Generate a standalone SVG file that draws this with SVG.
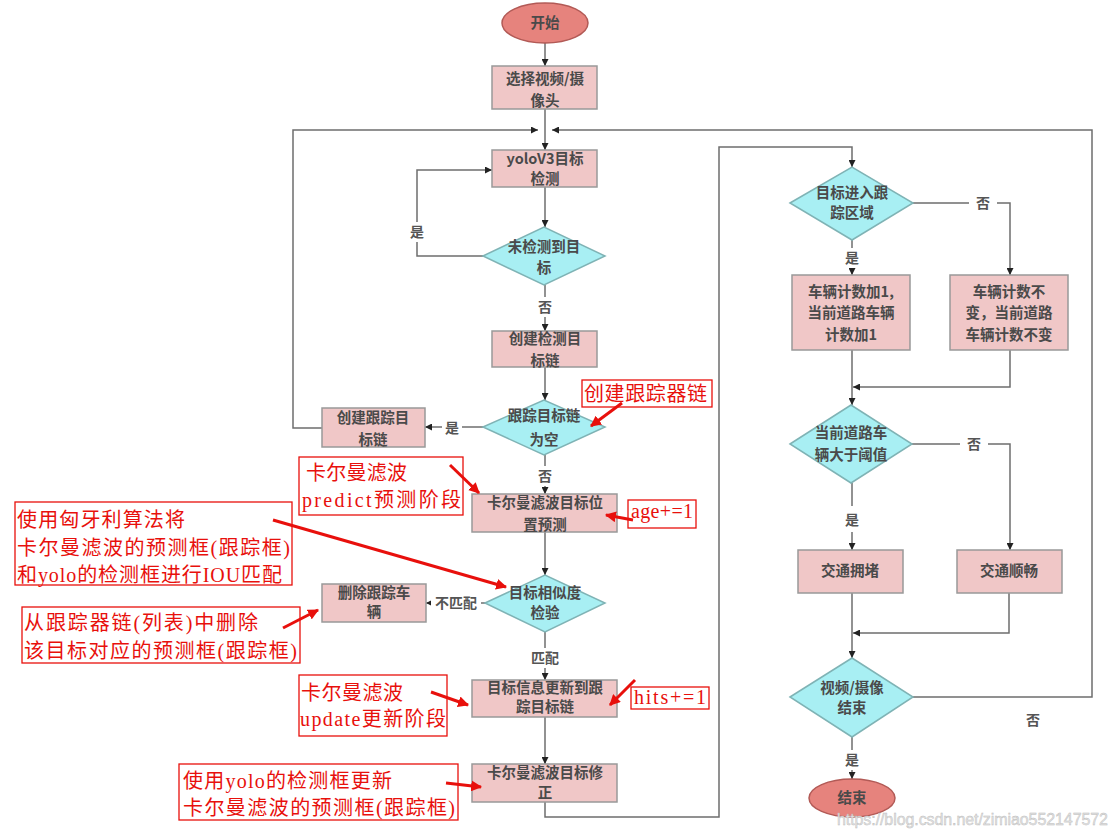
<svg xmlns="http://www.w3.org/2000/svg" width="1118" height="830" viewBox="0 0 1118 830">
<defs>
<marker id="ah" viewBox="0 0 10 10" refX="10" refY="5" markerWidth="7" markerHeight="7" markerUnits="userSpaceOnUse" orient="auto"><path d="M0,0 L10,5 L0,10 z" fill="#222"/></marker>
<marker id="rh" viewBox="0 0 10 10" refX="9" refY="5" markerWidth="11" markerHeight="11" markerUnits="userSpaceOnUse" orient="auto"><path d="M0,0 L10,5 L0,10 z" fill="#e8100c"/></marker>
<style>
.box{fill:#f0c7c7;stroke:#999;stroke-width:1.5}
.dia{fill:#a8eff3;stroke:#7fb3b5;stroke-width:1.5}
.ell{fill:#e6837d;stroke:#b25a56;stroke-width:1.5}
.t{font-family:"Noto Sans CJK SC",sans-serif;font-size:14.5px;font-weight:700;fill:#4a4a4a;text-anchor:middle}
.lb{font-family:"Noto Sans CJK SC",sans-serif;font-size:14px;font-weight:700;fill:#555;text-anchor:middle}
.c{fill:none;stroke:#6e6e6e;stroke-width:1.5}
.ca{fill:none;stroke:#6e6e6e;stroke-width:1.5;marker-end:url(#ah)}
.rbox{fill:#fff;stroke:#e8100c;stroke-width:1.3}
.rt{font-family:"Liberation Serif","Noto Sans CJK SC",serif;font-size:20px;fill:#e8100c}
.ra{fill:none;stroke:#e8100c;stroke-width:3;marker-end:url(#rh)}
.bg{fill:#fff}
</style>
</defs>
<rect width="1118" height="830" fill="#fff"/>

<g id="connectors">
<path class="ca" d="M545,43 V66"/>
<path class="ca" d="M545,109 V150"/>
<path class="ca" d="M322,428 H293 V130 H538"/>
<path class="ca" d="M913,697 H1092 V130 H552"/>
<path class="ca" d="M545,187 V227"/>
<path class="ca" d="M483,256 H417 V170 H492"/>
<path class="ca" d="M545,285 V331"/>
<path class="ca" d="M545,367 V400"/>
<path class="ca" d="M483,427 H425"/>
<path class="ca" d="M545,455 V494"/>
<path class="ca" d="M545,532 V575"/>
<path class="ca" d="M485,603 H426"/>
<path class="ca" d="M545,632 V680"/>
<path class="ca" d="M545,717 V764"/>
<path class="ca" d="M545,802 V817 H719 V147 H852 V167"/>
<path class="ca" d="M913,203 H1010 V275"/>
<path class="ca" d="M852,240 V275"/>
<path class="ca" d="M852,350 V405"/>
<path class="ca" d="M1010,350 V387 H853"/>
<path class="ca" d="M912,444 H1010 V550"/>
<path class="ca" d="M852,483 V550"/>
<path class="ca" d="M852,593 V658"/>
<path class="ca" d="M1009,593 V633 H853"/>
<path class="ca" d="M852,737 V779"/>
</g>

<g id="labels">
<rect class="bg" x="408" y="222" width="18" height="20"/><text class="lb" x="417" y="237">是</text>
<rect class="bg" x="536" y="297" width="18" height="20"/><text class="lb" x="545" y="312">否</text>
<rect class="bg" x="442" y="418" width="20" height="20"/><text class="lb" x="452" y="433">是</text>
<rect class="bg" x="536" y="466" width="18" height="20"/><text class="lb" x="545" y="481">否</text>
<rect class="bg" x="431" y="593" width="50" height="20"/><text class="lb" x="456" y="608">不匹配</text>
<rect class="bg" x="528" y="648" width="34" height="20"/><text class="lb" x="545" y="663">匹配</text>
<rect class="bg" x="969" y="193" width="28" height="20"/><text class="lb" x="983" y="208">否</text>
<rect class="bg" x="843" y="248" width="18" height="20"/><text class="lb" x="852" y="263">是</text>
<rect class="bg" x="960" y="434" width="28" height="20"/><text class="lb" x="974" y="449">否</text>
<rect class="bg" x="843" y="506" width="18" height="26"/><text class="lb" x="852" y="525">是</text>
<text class="lb" x="1033" y="725">否</text>
<rect class="bg" x="843" y="750" width="18" height="20"/><text class="lb" x="852" y="765">是</text>
</g>

<g id="n-start"><ellipse class="ell" cx="545" cy="23" rx="43" ry="20"/><text class="t" x="545" y="28">开始</text></g>
<g id="n-select"><rect class="box" x="492" y="66" width="105" height="43"/><text class="t" x="545" y="84">选择视频/摄</text><text class="t" x="545" y="106">像头</text></g>
<g id="n-yolo"><rect class="box" x="492" y="150" width="105" height="37"/><text class="t" x="545" y="164">yoloV3目标</text><text class="t" x="545" y="184">检测</text></g>
<g id="n-nodet"><polygon class="dia" points="483,256 544,227 605,256 544,285"/><text class="t" x="544" y="252">未检测到目</text><text class="t" x="544" y="273">标</text></g>
<g id="n-detchain"><rect class="box" x="492" y="331" width="105" height="36"/><text class="t" x="545" y="344">创建检测目</text><text class="t" x="545" y="366">标链</text></g>
<g id="n-trkempty"><polygon class="dia" points="483,427 544,400 605,427 544,455"/><text class="t" x="544" y="421">跟踪目标链</text><text class="t" x="544" y="445">为空</text></g>
<g id="n-trkchain"><rect class="box" x="322" y="408" width="103" height="39"/><text class="t" x="373" y="423">创建跟踪目</text><text class="t" x="373" y="445">标链</text></g>
<g id="n-predict"><rect class="box" x="472" y="494" width="145" height="38"/><text class="t" x="545" y="508">卡尔曼滤波目标位</text><text class="t" x="545" y="530">置预测</text></g>
<g id="n-sim"><polygon class="dia" points="485,603 545,575 605,603 545,632"/><text class="t" x="545" y="598">目标相似度</text><text class="t" x="545" y="618">检验</text></g>
<g id="n-delete"><rect class="box" x="322" y="584" width="104" height="38"/><text class="t" x="374" y="598">删除跟踪车</text><text class="t" x="374" y="617">辆</text></g>
<g id="n-update"><rect class="box" x="472" y="680" width="145" height="37"/><text class="t" x="545" y="693">目标信息更新到跟</text><text class="t" x="545" y="712">踪目标链</text></g>
<g id="n-correct"><rect class="box" x="472" y="764" width="145" height="38"/><text class="t" x="545" y="778">卡尔曼滤波目标修</text><text class="t" x="545" y="798">正</text></g>
<g id="n-enter"><polygon class="dia" points="790,203 852,167 913,203 852,240"/><text class="t" x="852" y="198">目标进入跟</text><text class="t" x="852" y="218">踪区域</text></g>
<g id="n-count1"><rect class="box" x="792" y="275" width="118" height="75"/><text class="t" x="851" y="297">车辆计数加1,</text><text class="t" x="851" y="318">当前道路车辆</text><text class="t" x="851" y="340">计数加1</text></g>
<g id="n-count0"><rect class="box" x="950" y="275" width="118" height="75"/><text class="t" x="1009" y="297">车辆计数不</text><text class="t" x="1009" y="318">变，当前道路</text><text class="t" x="1009" y="340">车辆计数不变</text></g>
<g id="n-thresh"><polygon class="dia" points="790,444 851,405 912,444 851,483"/><text class="t" x="851" y="438">当前道路车</text><text class="t" x="851" y="460">辆大于阈值</text></g>
<g id="n-jam"><rect class="box" x="798" y="550" width="105" height="43"/><text class="t" x="850" y="576">交通拥堵</text></g>
<g id="n-smooth"><rect class="box" x="957" y="550" width="105" height="43"/><text class="t" x="1009" y="576">交通顺畅</text></g>
<g id="n-endq"><polygon class="dia" points="790,697 852,658 913,697 852,737"/><text class="t" x="852" y="693">视频/摄像</text><text class="t" x="852" y="713">结束</text></g>
<g id="n-end"><ellipse class="ell" cx="852" cy="798" rx="43" ry="19"/><text class="t" x="852" y="803">结束</text></g>

<g id="annotations">
<rect class="rbox" x="582" y="380" width="130" height="27"/>
<text class="rt" x="584" y="401" textLength="123">创建跟踪器链</text>
<path class="ra" d="M622,403 L591,426"/>

<rect class="rbox" x="299" y="457" width="164" height="58"/>
<text class="rt" x="306" y="480" textLength="101">卡尔曼滤波</text>
<text class="rt" x="302" y="507" textLength="159">predict预测阶段</text>
<path class="ra" d="M450,465 L479,493"/>

<rect class="rbox" x="628" y="500" width="68" height="28"/>
<text class="rt" x="631" y="518" textLength="62">age+=1</text>
<path class="ra" d="M633,520 L606,515"/>

<rect class="rbox" x="15" y="502" width="277" height="83"/>
<text class="rt" x="17" y="527" textLength="168">使用匈牙利算法将</text>
<text class="rt" x="17" y="555" textLength="273">卡尔曼滤波的预测框(跟踪框)</text>
<text class="rt" x="17" y="582" textLength="265">和yolo的检测框进行IOU匹配</text>
<path class="ra" d="M273,520 L506,587"/>

<rect class="rbox" x="22" y="607" width="278" height="56"/>
<text class="rt" x="24" y="630" textLength="234">从跟踪器链(列表)中删除</text>
<text class="rt" x="24" y="658" textLength="273">该目标对应的预测框(跟踪框)</text>
<path class="ra" d="M283,628 L318,610"/>

<rect class="rbox" x="299" y="675" width="148" height="61"/>
<text class="rt" x="301" y="700" textLength="102">卡尔曼滤波</text>
<text class="rt" x="300" y="726" textLength="146">update更新阶段</text>
<path class="ra" d="M431,692 L468,705"/>

<rect class="rbox" x="631" y="687" width="78" height="22"/>
<text class="rt" x="634" y="704" textLength="72">hits+=1</text>
<path class="ra" d="M635,680 L610,705"/>

<rect class="rbox" x="179" y="764" width="279" height="56"/>
<text class="rt" x="183" y="788" textLength="209">使用yolo的检测框更新</text>
<text class="rt" x="183" y="815" textLength="272">卡尔曼滤波的预测框(跟踪框)</text>
<path class="ra" d="M446,783 L481,787"/>
</g>

<text x="837" y="825" textLength="271" style="font-family:'Liberation Sans',sans-serif;font-size:16px;fill:#e4e4e4;stroke:#b8b8b8;stroke-width:0.4">https://blog.csdn.net/zimiao552147572</text>
</svg>
